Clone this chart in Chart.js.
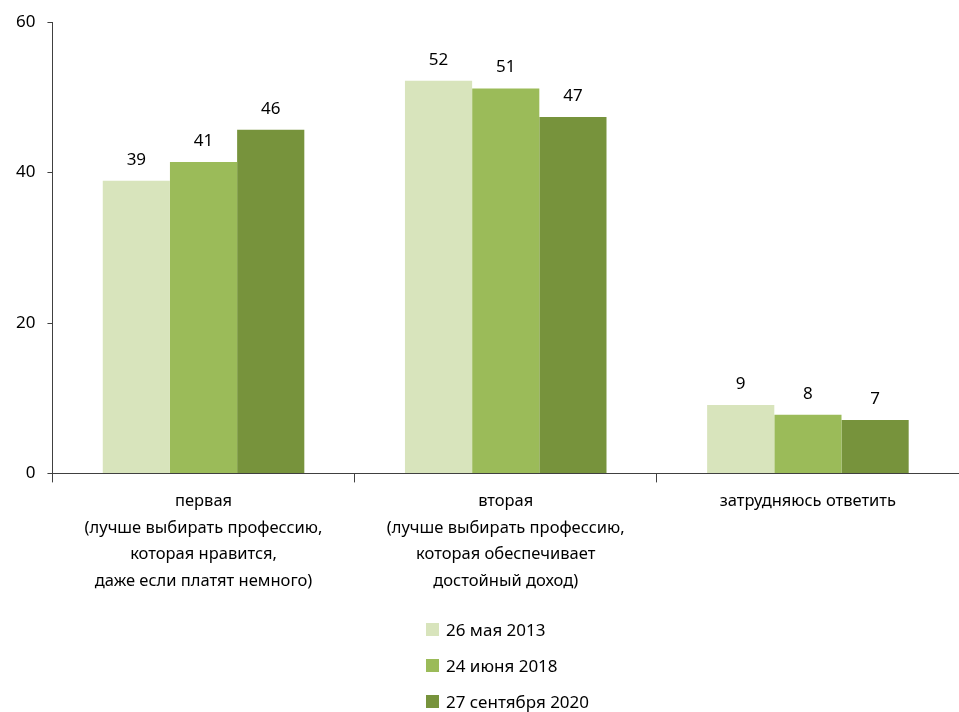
<!DOCTYPE html>
<html>
<head>
<meta charset="utf-8">
<script src="https://cdn.jsdelivr.net/npm/chart.js@4"></script>
<style>
  body { margin: 0; background: #fff; }
  #wrap { position: relative; width: 959px; height: 712px; }
  #legend { position: absolute; left: 426px; top: 611px; font-family: "Noto Sans", sans-serif; font-size: 17px; color: #000; }
  #legend div { height: 36px; display: flex; align-items: center; }
  #legend span { display: inline-block; width: 13px; height: 13px; margin-right: 7px; }
</style>
</head>
<body>
<div id="wrap">
  <canvas id="chart" width="959" height="712"></canvas>
  <div id="legend"></div>
</div>
<script>
let categories = [
  ["первая", "(лучше выбирать профессию,", "которая нравится,", "даже если платят немного)"],
  ["вторая", "(лучше выбирать профессию,", "которая обеспечивает", "достойный доход)"],
  ["затрудняюсь ответить"]
];
let seriesNames = ["26 мая 2013", "24 июня 2018", "27 сентября 2020"];
let may2013 = [38.9, 52.2, 9.1];
let june2018 = [41.4, 51.2, 7.8];
let sept2020 = [45.7, 47.4, 7.1];
let colors = ["#d8e4bc", "#9bbb59", "#77933c"];
let yTicks = [0, 20, 40, 60];

let font = "'Noto Sans', sans-serif";

const valueLabels = {
  id: "valueLabels",
  afterDatasetsDraw(chart) {
    let ctx = chart.ctx;
    ctx.save();
    ctx.font = "17px " + font;
    ctx.fillStyle = "#000";
    ctx.textAlign = "center";
    ctx.textBaseline = "middle";
    chart.data.datasets.forEach((ds, i) => {
      chart.getDatasetMeta(i).data.forEach((bar, j) => {
        ctx.fillText(Math.round(ds.data[j]), bar.x, bar.y - 21);
      });
    });
    ctx.restore();
  }
};

let seriesData = [may2013, june2018, sept2020];

new Chart(document.getElementById("chart"), {
  type: "bar",
  data: {
    labels: categories,
    datasets: seriesNames.map((n, i) => ({
      label: n, data: seriesData[i], backgroundColor: colors[i],
      barPercentage: 1, categoryPercentage: 0.667
    }))
  },
  options: {
    responsive: false,
    animation: false,
    layout: { padding: { top: 15, left: 4, right: 0, bottom: 112 } },
    plugins: { legend: { display: false }, tooltip: { enabled: false } },
    scales: {
      x: {
        grid: { drawOnChartArea: false, offset: true, tickLength: 9, color: "#404040" },
        border: { color: "#404040", width: 1 },
        ticks: { color: "#000", font: { family: font, size: 16.5, lineHeight: 1.6 }, padding: 6, maxRotation: 0, autoSkip: false }
      },
      y: {
        min: 0, max: 60,
        afterBuildTicks: axis => { axis.ticks = yTicks.map(v => ({ value: v })); },
        grid: { drawOnChartArea: false, tickLength: 5, color: "#404040" },
        border: { color: "#404040", width: 1 },
        ticks: { color: "#000", font: { family: font, size: 17 }, padding: 12 }
      }
    }
  },
  plugins: [valueLabels]
});

let legend = document.getElementById("legend");
seriesNames.forEach((n, i) => {
  legend.innerHTML += '<div><span style="background:' + colors[i] + '"></span>' + n + '</div>';
});
</script>
</body>
</html>
